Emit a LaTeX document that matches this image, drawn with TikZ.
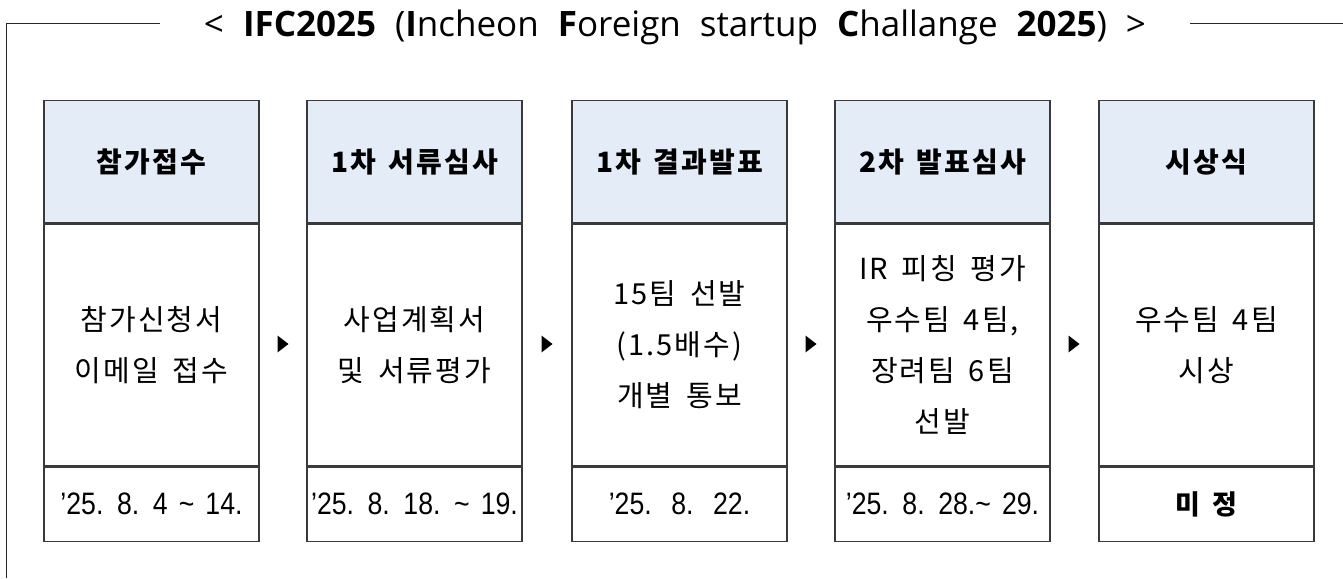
\documentclass[tikz,border=0pt]{standalone}
\usepackage{fontspec}
\setmainfont{Noto Sans CJK KR}
\newfontfamily\titlefont{Open Sans}
\newfontfamily\datefont[WordSpace=1.5,FakeStretch=0.86]{Liberation Sans}
\newfontfamily\bodyfont[LetterSpace=7,WordSpace=1.6]{Noto Sans CJK KR}
\newfontfamily\hdrfont[LetterSpace=8,WordSpace=1.4]{Noto Sans CJK KR}
\definecolor{hdrfill}{HTML}{E4ECF7}
\definecolor{boxline}{HTML}{3A3A3A}
\begin{document}
\begin{tikzpicture}[x=1pt,y=-1pt,
  framestyle/.style={draw=black!85, line width=1pt},
  cell/.style={draw=boxline, line width=1.3pt, minimum width=215pt, inner sep=0pt, align=center, anchor=north},
  hdrcell/.style={cell, fill=hdrfill, minimum height=122pt, font=\hdrfont\bfseries\fontsize{28}{32}\selectfont},
  bodycell/.style={cell, minimum height=242pt, font=\bodyfont\fontsize{29}{51}\selectfont},
  datecell/.style={cell, minimum height=74pt, font=\datefont\fontsize{31}{34}\selectfont},
  tri/.style={fill=black}
]
\useasboundingbox (0,0) rectangle (1343,578);
% frame
\coordinate (tl) at (6,24);
\coordinate (bl) at (6,578);
\coordinate (tlend) at (160,24);
\coordinate (trstart) at (1190,24);
\coordinate (tr) at (1343,24);
\draw[framestyle] (bl) -- (tl) -- (tlend);
\draw[framestyle] (trstart) -- (tr);
\node[font=\titlefont\fontsize{35}{40}\selectfont, inner sep=0pt, anchor=base] (title) at (675,36.5)
  {<\hspace{19pt}\textbf{IFC2025}\hspace{19pt}(\textbf{I}ncheon\hspace{19pt}\textbf{F}oreign\hspace{19pt}startup\hspace{19pt}\textbf{C}hallange\hspace{19pt}\textbf{2025})\hspace{19pt}>};

% box 1
\node[hdrcell] (h1) at (151.5,100) {참가접수};
\node[bodycell] (b1) at (h1.south) {참가신청서\\이메일 접수};
\node[datecell] (d1) at (b1.south) {’25. 8. 4 \textasciitilde{} 14.};
% box 2
\node[hdrcell] (h2) at (414.5,100) {1차 서류심사};
\node[bodycell] (b2) at (h2.south) {사업계획서\\및 서류평가};
\node[datecell] (d2) at (b2.south) {’25. 8. 18. \textasciitilde{} 19.};
% box 3
\node[hdrcell] (h3) at (679.5,100) {1차 결과발표};
\node[bodycell] (b3) at (h3.south) {15팀 선발\\(1.5배수)\\개별 통보};
\node[datecell] (d3) at (b3.south) {’25.\hspace{6pt} 8.\hspace{6pt} 22.};
% box 4
\node[hdrcell] (h4) at (942.5,100) {2차 발표심사};
\node[bodycell] (b4) at (h4.south) {IR 피칭 평가\\우수팀 4팀,\\장려팀 6팀\\선발};
\node[datecell] (d4) at (b4.south) {’25. 8. 28.\textasciitilde{} 29.};
% box 5
\node[hdrcell] (h5) at (1206.5,100) {시상식};
\node[bodycell] (b5) at (h5.south) {우수팀 4팀\\시상};
\node[datecell, font=\hdrfont\bfseries\fontsize{27}{32}\selectfont] (d5) at (b5.south) {미 정};

% arrow markers
\foreach \x/\n in {283/1,547/2,811/3,1074/4}{
  \coordinate (m\n) at (\x,344);
  \fill[tri] ([shift={(-5.5,-8.5)}]m\n) -- ([shift={(5.5,0)}]m\n) -- ([shift={(-5.5,8.5)}]m\n) -- cycle;
}
\end{tikzpicture}
\end{document}
